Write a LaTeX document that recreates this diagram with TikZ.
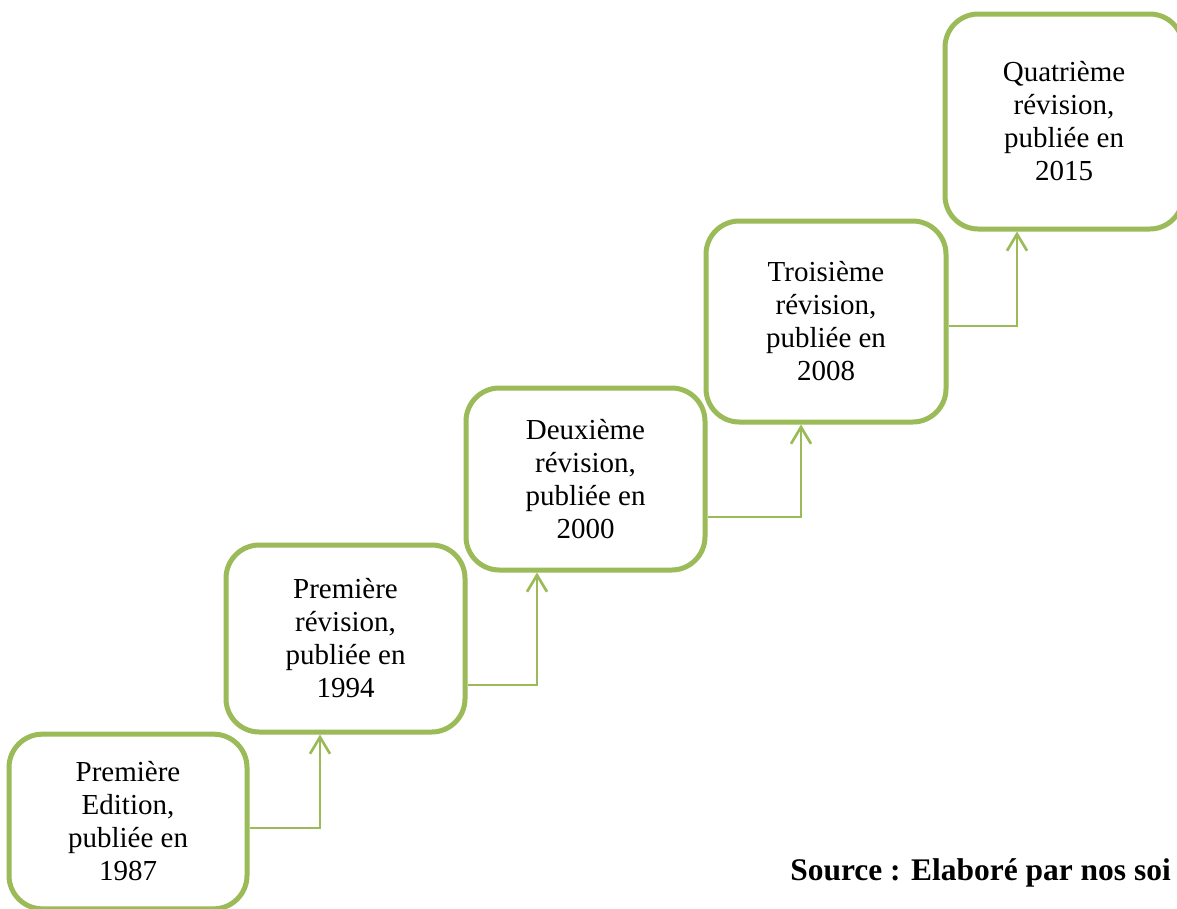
\documentclass[tikz,border=0pt]{standalone}
\usepackage{fontspec}
\setmainfont{Liberation Serif}
\usetikzlibrary{arrows.meta}
\definecolor{olive}{RGB}{155,187,89}
\begin{document}
\begin{tikzpicture}[x=0.75pt,y=-0.75pt,
  stage/.style={draw=olive, line width=3.75pt, rounded corners=25pt,
    fill=white, align=center, inner sep=0pt,
    font=\fontsize{21.75pt}{24.75pt}\selectfont},
  conn/.style={draw=olive, line width=2pt,
    -{Straight Barb[length=12.5pt,width=15pt,line width=2pt]}}]
\useasboundingbox (0,0) rectangle (1177,908);
\fill[white] (0,0) rectangle (1177,908);
\clip (0,0) rectangle (1177,908);

% the five editions, climbing from bottom left to top right
\node[stage, minimum width=178.5pt, minimum height=131pt] (b1) at (128,821.5)
  {Première\\Edition,\\publiée en\\1987};
\node[stage, minimum width=179.25pt, minimum height=140.25pt] (b2) at (345.5,638.5)
  {Première\\révision,\\publiée en\\1994};
\node[stage, minimum width=179.25pt, minimum height=136.5pt] (b3) at (585.5,479)
  {Deuxième\\révision,\\publiée en\\2000};
\node[stage, minimum width=180pt, minimum height=150.75pt] (b4) at (826,321.5)
  {Troisième\\révision,\\publiée en\\2008};
\node[stage, minimum width=178.5pt, minimum height=161.25pt] (b5) at (1064,121.5)
  {Quatrième\\révision,\\publiée en\\2015};

% bend points of the step connectors
\coordinate (k1) at (320,828);
\coordinate (k2) at (537,685);
\coordinate (k3) at (801,517);
\coordinate (k4) at (1017,326);

\draw[conn] (b1.east |- k1) -- (k1) -- (k1 |- b2.south);
\draw[conn] (b2.east |- k2) -- (k2) -- (k2 |- b3.south);
\draw[conn] (b3.east |- k3) -- (k3) -- (k3 |- b4.south);
\draw[conn] (b4.east |- k4) -- (k4) -- (k4 |- b5.south);

\node[anchor=base west, inner sep=0pt,
  font=\fontsize{23.6pt}{28pt}\selectfont\bfseries] (src) at (790,880)
  {Source : Elaboré par nos soi};
\end{tikzpicture}
\end{document}
